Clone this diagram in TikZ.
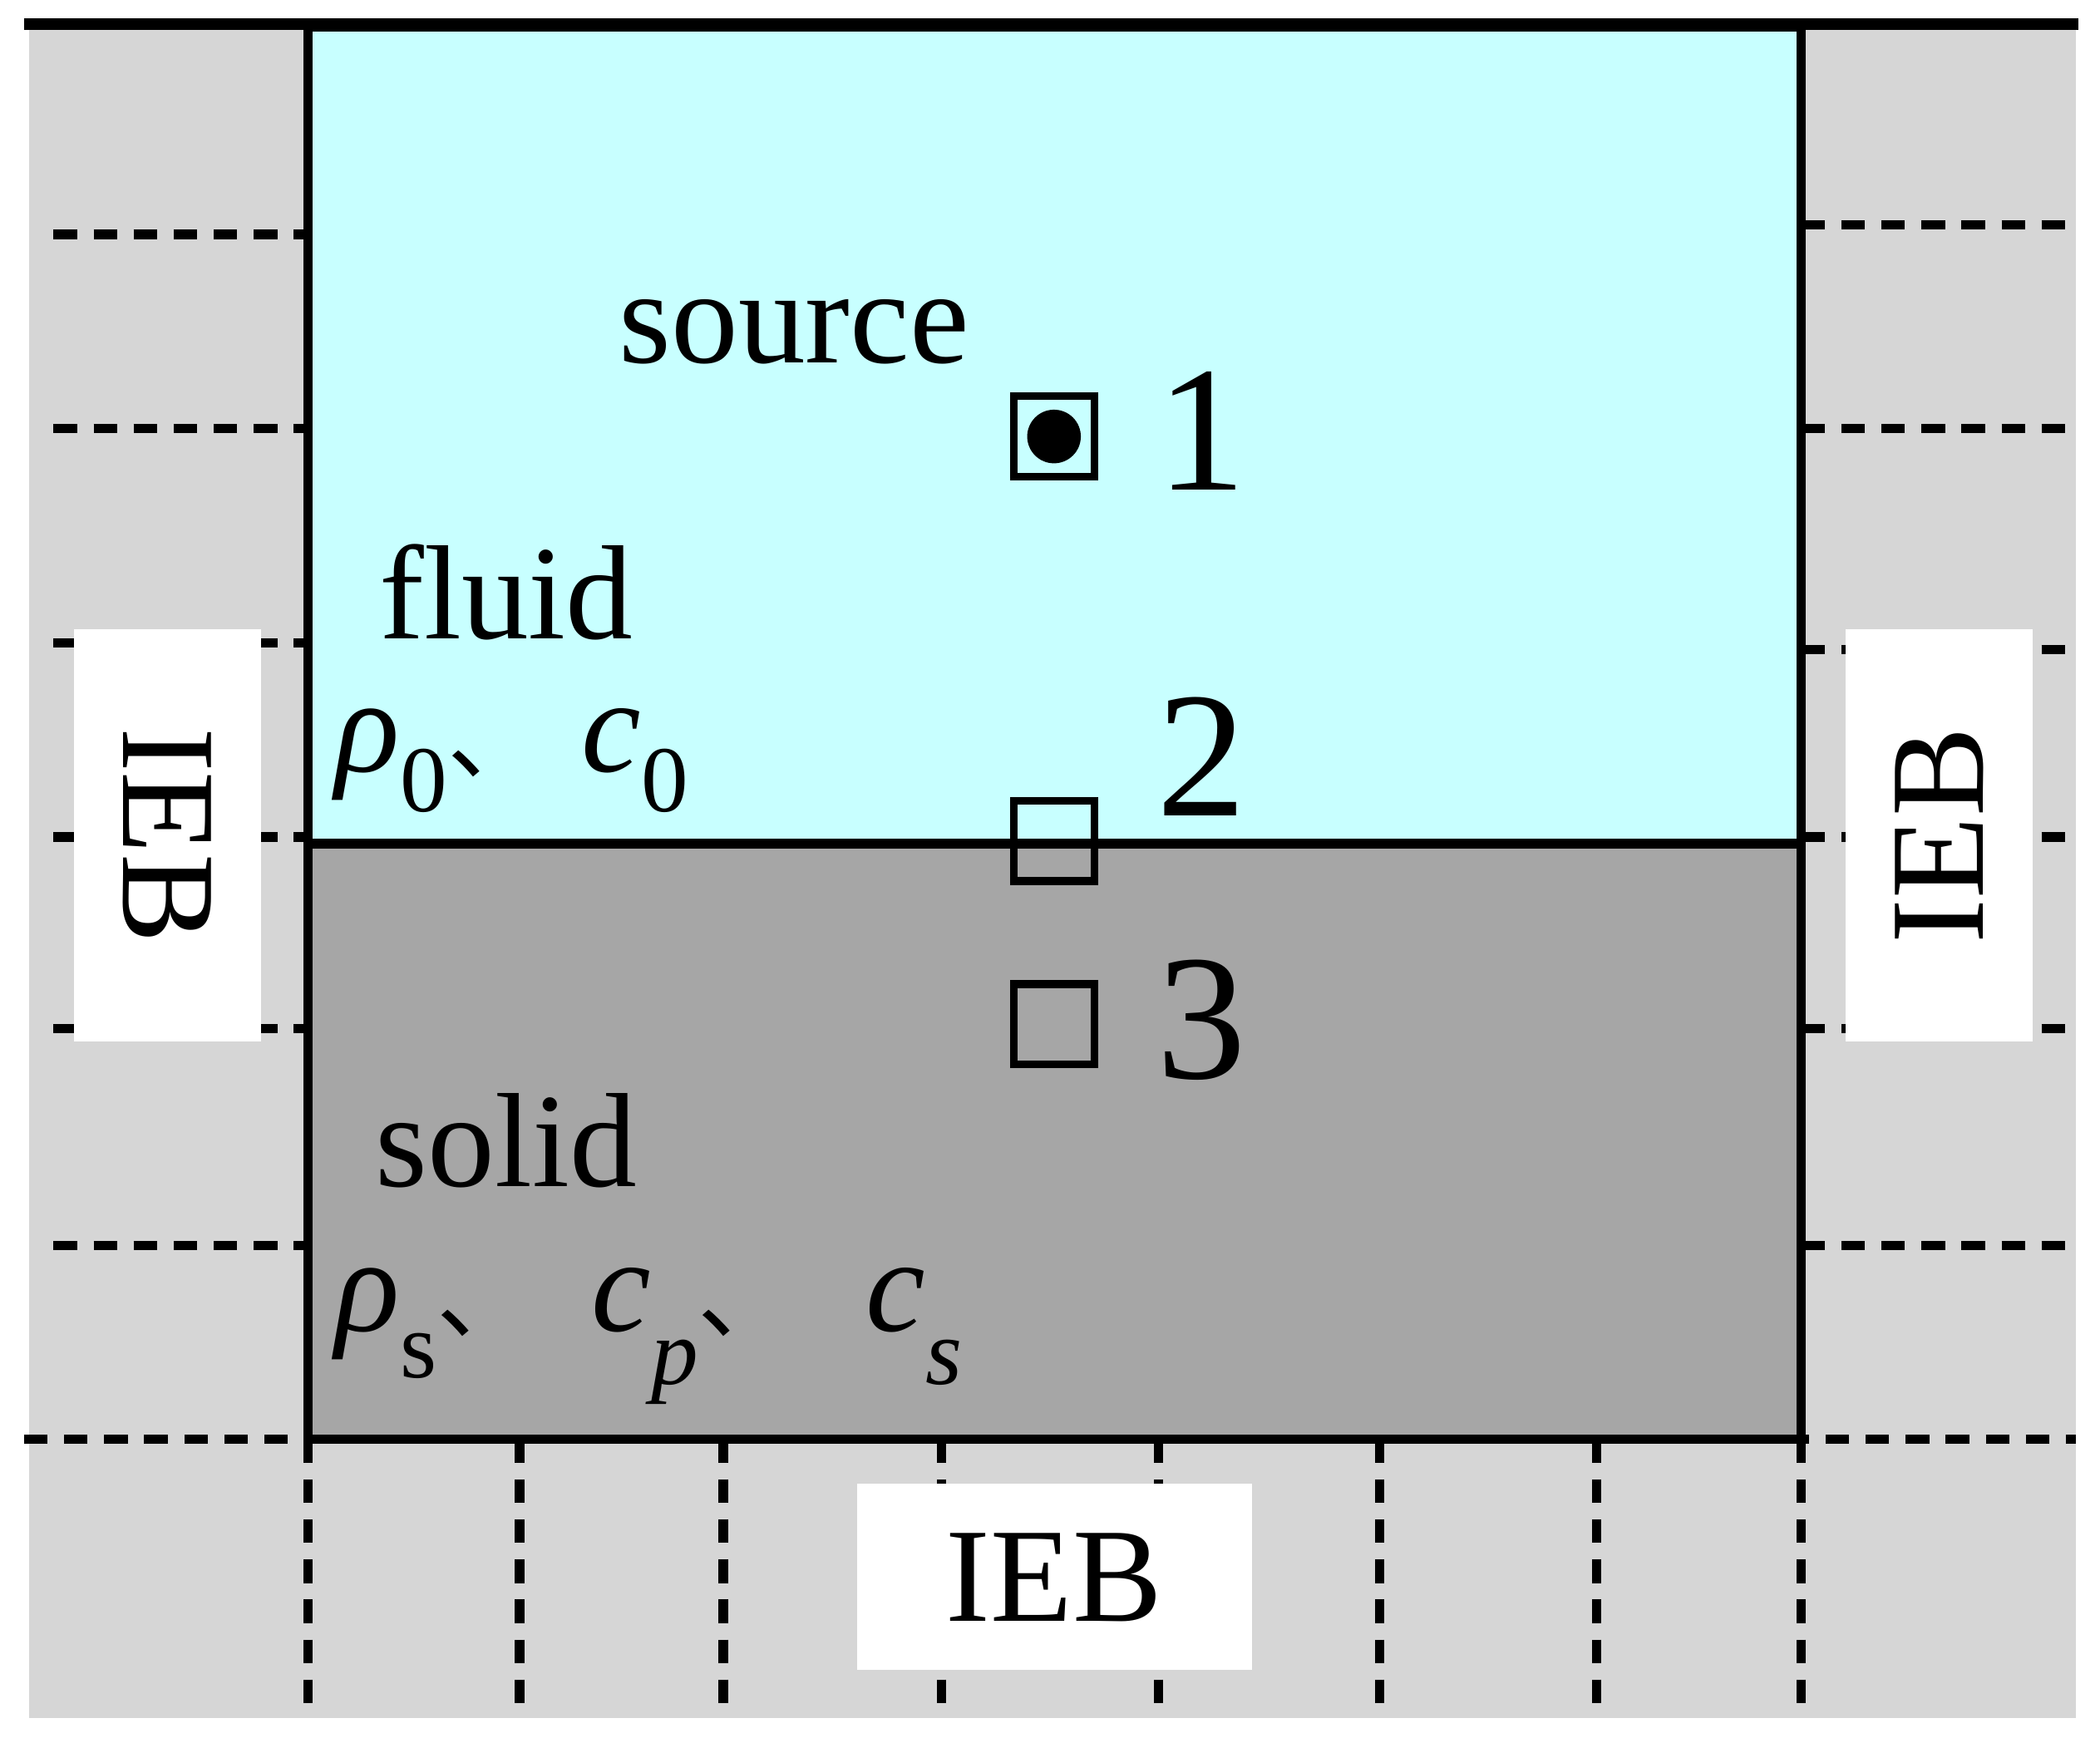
\documentclass[tikz,border=0pt]{standalone}
\usepackage{fontspec}
\setmainfont{Liberation Serif}
\newfontfamily\cjk{Noto Sans CJK SC}
\definecolor{fluidc}{RGB}{200,255,255}
\begin{document}
\begin{tikzpicture}[x=0.01cm,y=-0.01cm,
  dsh/.style={line width=2pt,dash pattern=on 5pt off 3.5pt},
  bd/.style={line width=2pt},
  wb/.style={fill=white,draw=none},
  lbl/.style={font=\fontsize{28.5}{32}\selectfont,inner sep=0pt},
  num/.style={font=\fontsize{38}{42}\selectfont,inner sep=0pt},
  pt/.style={draw,line width=1.6pt,minimum size=0.6cm,inner sep=0pt}]
\useasboundingbox (0,0) rectangle (1568,1298);
\fill[white] (0,0) rectangle (1568,1298);
\fill[black!16] (22,20) rectangle (1550,1283);
\fill[fluidc] (230,20) rectangle (1345,630);
\fill[black!35] (230,630) rectangle (1345,1075);
% dashed lines
\foreach \y in {175,320,480,625,768,930} \draw[dsh] (40,\y) -- (230,\y);
\foreach \y in {168,320,485,625,768,930} \draw[dsh] (1345,\y) -- (1550,\y);
\draw[dsh] (18,1075) -- (1550,1075);
\foreach \x in {230,388,540,703,865,1030,1192,1345} \draw[dsh] (\x,1075) -- (\x,1283);
% white boxes
\fill[wb] (55,470) rectangle (195,778);
\fill[wb] (1378,470) rectangle (1518,778);
\fill[wb] (640,1108) rectangle (935,1247);
\node[lbl,rotate=-90] (ebl) at (125,624) {IEB};
\node[lbl,rotate=90] (ebr) at (1448,624) {IEB};
\node[lbl] (ebb) at (787,1178) {IEB};
% outlines
\draw[bd] (230,20) rectangle (1345,1075);
\draw[bd] (230,630) -- (1345,630);
\draw[line width=2.5pt] (18,18) -- (1552,18);
% points
\node[pt] (p1) at (787,326) {};
\fill (p1.center) circle (0.2cm);
\node[pt] (p2) at (787,628) {};
\node[pt] (p3) at (787,765) {};
\node[num] (l1) at (897,322) {1};
\node[num] (l2) at (897,565) {2};
\node[num] (l3) at (897,762) {3};
% texts
\node[lbl] (src) at (593,248) {source};
\node[lbl] (fl) at (378,442) {fluid};
\node[lbl] (so) at (378,852) {solid};
\node[lbl,anchor=west] (m0) at (250,568) {\textit{ρ}\raisebox{-0.3em}{\fontsize{20}{24}\selectfont 0}{\cjk\fontsize{20}{24}\selectfont 、}\hspace{0.3em}\textit{c}\raisebox{-0.3em}{\fontsize{20}{24}\selectfont 0}};
\node[lbl,anchor=west] (ms) at (250,998) {\textit{ρ}\raisebox{-0.35em}{\fontsize{20}{24}\selectfont s}{\cjk\fontsize{20}{24}\selectfont 、}\hspace{0.45em}\textit{c}\raisebox{-0.4em}{\fontsize{20}{24}\selectfont\itshape p}{\cjk\fontsize{20}{24}\selectfont 、}\hspace{0.55em}\textit{c}\raisebox{-0.4em}{\fontsize{20}{24}\selectfont\itshape s}};
\end{tikzpicture}
\end{document}
